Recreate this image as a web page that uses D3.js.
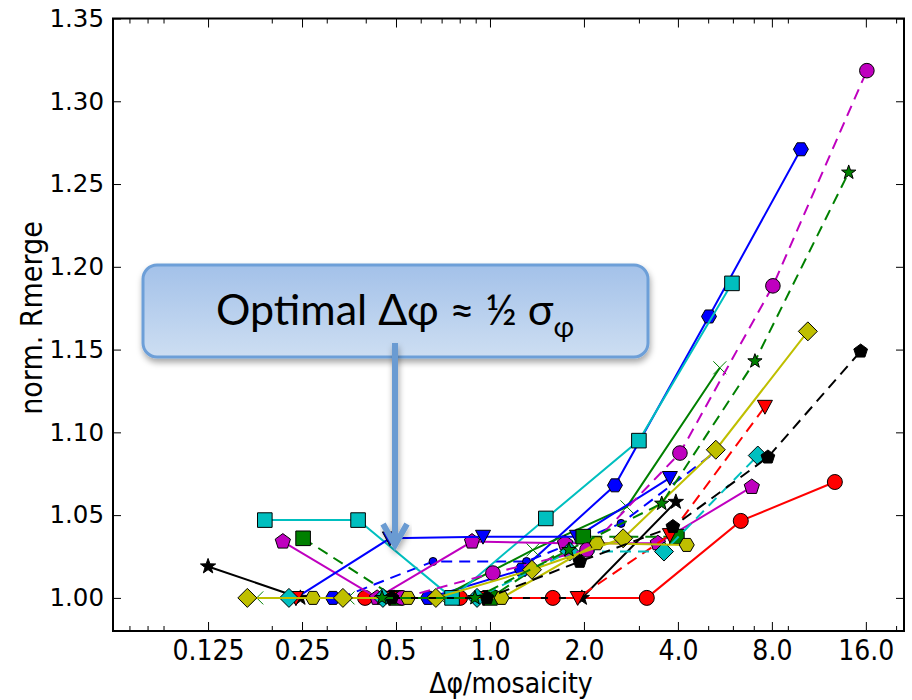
<!DOCTYPE html>
<html>
<head>
<meta charset="utf-8">
<script src="https://cdn.jsdelivr.net/npm/d3@7"></script>
<style>
  body { margin: 0; background: #fff; }
  .cond { font-family: "DejaVu Sans Condensed", "DejaVu Sans", sans-serif; font-stretch: condensed; }
</style>
</head>
<body>
<svg id="chart" width="912" height="700"></svg>
<script>
// ---- data ----
const xTicks = [0.125, 0.25, 0.5, 1.0, 2.0, 4.0, 8.0, 16.0];
const xTickLabels = ["0.125", "0.25", "0.5", "1.0", "2.0", "4.0", "8.0", "16.0"];
const xMinorTicks = [0.07, 0.08, 0.09, 0.2, 0.3, 0.4, 0.6, 0.7, 0.8, 0.9, 3, 5, 6, 7, 9, 20];
const yTicks = [1.00, 1.05, 1.10, 1.15, 1.20, 1.25, 1.30, 1.35];

const xBlueHex = [0.314, 0.633, 1.266, 2.514, 5.03, 9.91];
const yBlueHex = [1.000, 1.000, 1.017, 1.068, 1.170, 1.271];
const xGreenX = [0.179, 0.351, 0.692, 1.373, 2.746, 5.45];
const yGreenX = [1.000, 1.000, 1.000, 1.029, 1.055, 1.139];
const xRedCircle = [0.398, 0.802, 1.59, 3.18, 6.36, 12.73];
const yRedCircle = [1.000, 1.000, 1.000, 1.000, 1.0465, 1.070];
const xCyanSquare = [0.190, 0.378, 0.756, 1.51, 3.0, 5.96];
const yCyanSquare = [1.047, 1.047, 1.000, 1.048, 1.095, 1.190];
const xMagPent = [0.217, 0.435, 0.876, 1.74, 3.45, 6.9];
const yMagPent = [1.034, 1.000, 1.034, 1.033, 1.033, 1.067];
const xYelDiamond = [0.167, 0.338, 0.671, 1.363, 2.67, 5.29, 10.43];
const yYelDiamond = [1.000, 1.000, 1.000, 1.017, 1.036, 1.0895, 1.161];
const xBlackStar = [0.125, 0.247, 0.493, 0.985, 1.97, 3.94];
const yBlackStar = [1.019, 1.000, 1.000, 1.000, 1.000, 1.058];
const xBlueTri = [0.239, 0.478, 0.95, 1.9, 3.77];
const yBlueTri = [1.000, 1.036, 1.037, 1.037, 1.0725];
const xGreenSquare = [0.252, 0.50, 1.0, 1.99, 3.97];
const yGreenSquare = [1.036, 1.000, 1.000, 1.037, 1.037];
const xRedTri = [0.239, 0.478, 0.957, 1.91, 3.77, 7.6];
const yRedTri = [1.000, 1.000, 1.000, 1.000, 1.038, 1.1155];
const xCyanDiamond = [0.227, 0.454, 0.909, 1.80, 3.61, 7.21];
const yCyanDiamond = [1.000, 1.000, 1.000, 1.028, 1.028, 1.086];
const xMagCircle = [0.523, 1.022, 2.045, 4.06, 8.06, 16.12];
const yMagCircle = [1.000, 1.015, 1.029, 1.0875, 1.1885, 1.3185];
const xYelHex = [0.271, 0.546, 1.09, 2.2, 4.27];
const yYelHex = [1.000, 1.000, 1.000, 1.033, 1.032];
const xBlackPent = [0.485, 0.978, 1.94, 3.855, 7.77, 15.4];
const yBlackPent = [1.000, 1.000, 1.022, 1.043, 1.085, 1.149];
const xBlueDot = [0.331, 0.657, 1.31, 2.63, 5.26];
const yBlueDot = [1.000, 1.022, 1.022, 1.045, 1.088];
const xGreenStar = [0.451, 0.895, 1.79, 3.55, 7.06, 14.1];
const yGreenStar = [1.000, 1.000, 1.029, 1.057, 1.143, 1.257];

// matplotlib classic colours
const C = { b: "#0000ff", g: "#008000", r: "#ff0000", c: "#00bfbf", m: "#bf00bf", y: "#bfbf00", k: "#000000" };

const series = [
  { xs: xBlueDot, ys: yBlueDot, color: C.b, dash: true, marker: "circle", r: 4 },
  { xs: xBlueHex, ys: yBlueHex, color: C.b, dash: false, marker: "hexagon", r: 7.5 },
  { xs: xGreenX, ys: yGreenX, color: C.g, dash: false, marker: "x", r: 6.5 },
  { xs: xRedCircle, ys: yRedCircle, color: C.r, dash: false, marker: "circle", r: 7.5 },
  { xs: xCyanSquare, ys: yCyanSquare, color: C.c, dash: false, marker: "square", r: 7.3 },
  { xs: xMagPent, ys: yMagPent, color: C.m, dash: false, marker: "pentagon", r: 8 },
  { xs: xBlackStar, ys: yBlackStar, color: C.k, dash: false, marker: "star", r: 8 },
  { xs: xBlueTri, ys: yBlueTri, color: C.b, dash: false, marker: "triDown", r: 7.5 },
  { xs: xGreenSquare, ys: yGreenSquare, color: C.g, dash: true, marker: "square", r: 7.3 },
  { xs: xRedTri, ys: yRedTri, color: C.r, dash: true, marker: "triDown", r: 7.5 },
  { xs: xCyanDiamond, ys: yCyanDiamond, color: C.c, dash: true, marker: "diamond", r: 9.5 },
  { xs: xMagCircle, ys: yMagCircle, color: C.m, dash: true, marker: "circle", r: 7.3 },
  { xs: xYelHex, ys: yYelHex, color: C.y, dash: false, marker: "hexagon", r: 7.5 },
  { xs: xYelDiamond, ys: yYelDiamond, color: C.y, dash: false, marker: "diamond", r: 9.5 },
  { xs: xBlackPent, ys: yBlackPent, color: C.k, dash: true, marker: "pentagon", r: 7.2 },
  { xs: xGreenStar, ys: yGreenStar, color: C.g, dash: true, marker: "star", r: 7.5 }
];

const svg = d3.select("#chart");
const margin = { top: 18.5, right: 8, bottom: 69, left: 113 };
const W = 912, H = 700;

const x = d3.scaleLog().base(2).domain([0.062, 21.2]).range([margin.left, W - margin.right]);
const y = d3.scaleLinear().domain([0.98, 1.35]).range([H - margin.bottom, margin.top]);

function polygon(n, r, rot) {
  const pts = d3.range(n).map(i => {
    const a = rot + i * 2 * Math.PI / n;
    return [r * Math.cos(a), r * Math.sin(a)];
  });
  return "M" + pts.map(p => p.join(",")).join("L") + "Z";
}
function markerPath(type, r) {
  switch (type) {
    case "circle": return d3.symbol(d3.symbolCircle, Math.PI * r * r)();
    case "square": return `M${-r},${-r}H${r}V${r}H${-r}Z`;
    case "diamond": return `M0,${-r}L${r},0L0,${r}L${-r},0Z`;
    case "triDown": return `M${-r},${-r * 0.85}L${r},${-r * 0.85}L0,${r}Z`;
    case "pentagon": return polygon(5, r, -Math.PI / 2);
    case "hexagon": return polygon(6, r, 0);
    case "star": {
      const pts = d3.range(10).map(i => {
        const rr = i % 2 ? r * 0.4 : r;
        const a = -Math.PI / 2 + i * Math.PI / 5;
        return [rr * Math.cos(a), rr * Math.sin(a)];
      });
      return "M" + pts.map(p => p.join(",")).join("L") + "Z";
    }
    case "x": return `M${-r},${-r}L${r},${r}M${-r},${r}L${r},${-r}`;
  }
}

// ---- plot series ----
const gData = svg.append("g");
const line = d3.line().x(d => x(d[0])).y(d => y(d[1]));

series.forEach(s => {
  const pts = s.xs.map((v, i) => [v, s.ys[i]]);
  gData.append("path")
    .attr("d", line(pts))
    .attr("fill", "none")
    .attr("stroke", s.color)
    .attr("stroke-width", 2)
    .attr("stroke-dasharray", s.dash ? "11,7" : null);
  gData.selectAll(null)
    .data(pts)
    .enter()
    .append("path")
    .attr("transform", d => `translate(${x(d[0])},${y(d[1])})`)
    .attr("d", markerPath(s.marker, s.r))
    .attr("fill", s.marker === "x" ? "none" : s.color)
    .attr("stroke", s.marker === "x" ? s.color : "#000")
    .attr("stroke-width", 1);
});

// ---- axes (ticks inward on all four sides) ----
const x0 = margin.left, x1 = W - margin.right, y0 = H - margin.bottom, y1 = margin.top;

const gx = svg.append("g")
  .attr("transform", `translate(0,${y0})`)
  .call(d3.axisBottom(x).tickValues(xTicks).tickFormat((d, i) => xTickLabels[i])
    .tickSizeInner(-9).tickSizeOuter(0).tickPadding(9));
gx.select(".domain").remove();
gx.selectAll("text").attr("class", "cond").attr("font-size", 28).attr("fill", "#000");

const gxm = svg.append("g")
  .attr("transform", `translate(0,${y0})`)
  .call(d3.axisBottom(x).tickValues(xMinorTicks).tickFormat("").tickSizeInner(-5).tickSizeOuter(0));
gxm.select(".domain").remove();

svg.append("g")
  .attr("transform", `translate(0,${y1})`)
  .call(d3.axisTop(x).tickValues(xTicks).tickFormat("").tickSizeInner(-9).tickSizeOuter(0))
  .select(".domain").remove();
svg.append("g")
  .attr("transform", `translate(0,${y1})`)
  .call(d3.axisTop(x).tickValues(xMinorTicks).tickFormat("").tickSizeInner(-5).tickSizeOuter(0))
  .select(".domain").remove();

const gy = svg.append("g")
  .attr("transform", `translate(${x0},0)`)
  .call(d3.axisLeft(y).tickValues(yTicks).tickFormat(d3.format(".2f"))
    .tickSizeInner(-8).tickSizeOuter(0).tickPadding(9));
gy.select(".domain").remove();
gy.selectAll("text").attr("font-family", "DejaVu Sans").attr("font-size", 24.5).attr("fill", "#000");

svg.append("g")
  .attr("transform", `translate(${x1},0)`)
  .call(d3.axisRight(y).tickValues(yTicks).tickFormat("").tickSizeInner(-8).tickSizeOuter(0))
  .select(".domain").remove();

svg.selectAll(".tick line").attr("stroke", "#000").attr("stroke-width", 1);

svg.append("rect")
  .attr("x", x0).attr("y", y1)
  .attr("width", x1 - x0).attr("height", y0 - y1)
  .attr("fill", "none").attr("stroke", "#000").attr("stroke-width", 2);

svg.append("text")
  .attr("class", "cond")
  .attr("x", 511).attr("y", 693)
  .attr("text-anchor", "middle").attr("font-size", 28)
  .text("Δφ/mosaicity");

svg.append("text")
  .attr("class", "cond")
  .attr("transform", `translate(42,318) rotate(-90)`)
  .attr("text-anchor", "middle").attr("font-size", 30)
  .text("norm. Rmerge");

// ---- annotation box and arrow ----
const defs = svg.append("defs");
const grad = defs.append("linearGradient").attr("id", "boxFill")
  .attr("x1", 0).attr("y1", 0).attr("x2", 0).attr("y2", 1);
grad.append("stop").attr("offset", "0%").attr("stop-color", "#a3c1e9");
grad.append("stop").attr("offset", "100%").attr("stop-color", "#cddef2");
const shadow = defs.append("filter").attr("id", "shadow")
  .attr("x", "-10%").attr("y", "-20%").attr("width", "130%").attr("height", "150%");
shadow.append("feDropShadow").attr("dx", 1).attr("dy", 4).attr("stdDeviation", 3)
  .attr("flood-color", "#000").attr("flood-opacity", 0.35);

svg.append("rect")
  .attr("x", 143).attr("y", 265).attr("width", 505).attr("height", 92)
  .attr("rx", 14).attr("ry", 14)
  .attr("fill", "url(#boxFill)")
  .attr("stroke", "#6d9fd8").attr("stroke-width", 3)
  .attr("filter", "url(#shadow)");

const label = svg.append("text")
  .attr("x", 216).attr("y", 325)
  .attr("font-family", "Lato, 'Open Sans', sans-serif")
  .attr("font-size", 43).attr("fill", "#000");
label.append("tspan").text("Optimal Δφ ≈ ½ σ");
label.append("tspan").attr("dy", 12).attr("font-size", 28).text("φ");

const arrow = svg.append("g").attr("filter", "url(#shadow)")
  .attr("stroke", "#6b9bd2").attr("stroke-width", 6).attr("fill", "none");
arrow.append("path").attr("d", "M395,343L395,543");
arrow.append("path").attr("d", "M383,524L395,545L407,524").attr("stroke-linejoin", "miter");
</script>
</body>
</html>
